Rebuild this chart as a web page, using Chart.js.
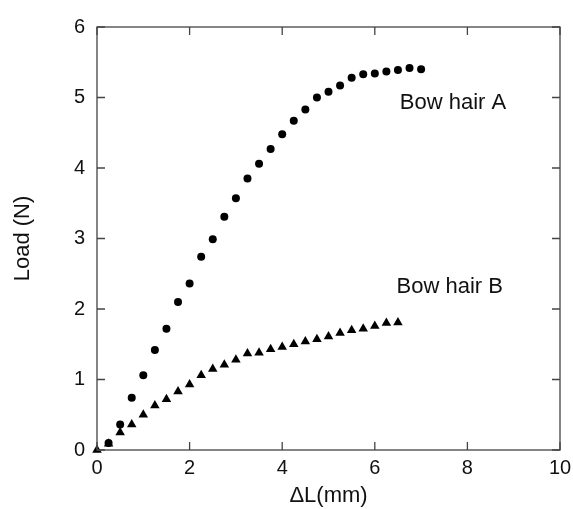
<!DOCTYPE html>
<html>
<head>
<meta charset="utf-8">
<script src="https://cdn.jsdelivr.net/npm/chart.js@4/dist/chart.umd.min.js"></script>
<style>
  html, body { margin: 0; padding: 0; background: #fff; }
  #wrap { width: 573px; height: 509px; }
</style>
</head>
<body>
<div id="wrap"><canvas id="plot"></canvas></div>
<script>
// elongation steps (mm)
const elongation = [0, 0.25, 0.5, 0.75, 1, 1.25, 1.5, 1.75, 2, 2.25, 2.5, 2.75, 3, 3.25, 3.5,
  3.75, 4, 4.25, 4.5, 4.75, 5, 5.25, 5.5, 5.75, 6, 6.25, 6.5, 6.75, 7];
// load (N)
const hairA = [null, 0.10, 0.36, 0.74, 1.06, 1.42, 1.72, 2.10, 2.36, 2.74, 2.99, 3.31, 3.57, 3.85, 4.06,
  4.27, 4.48, 4.67, 4.83, 5.00, 5.08, 5.17, 5.28, 5.33, 5.34, 5.37, 5.39, 5.42, 5.40];
const hairB = [0, 0.09, 0.25, 0.36, 0.50, 0.63, 0.72, 0.83, 0.93, 1.06, 1.15, 1.21, 1.28, 1.37, 1.38,
  1.43, 1.46, 1.50, 1.54, 1.57, 1.61, 1.66, 1.70, 1.72, 1.76, 1.80, 1.81];
const xTicks = [0, 2, 4, 6, 8, 10];
const yTicks = [0, 1, 2, 3, 4, 5, 6];
const labels = [
  { text: 'Bow hair A', x: 6.54, y: 4.92 },
  { text: 'Bow hair B', x: 6.47, y: 2.32 }
];

function toPoints(ys) {
  const pts = [];
  ys.forEach((y, i) => { if (y !== null) pts.push({ x: elongation[i], y: y }); });
  return pts;
}

const FONT = 'Liberation Sans, Arial, sans-serif';

// frame with inward ticks on all four sides, plus the text labels
const framePlugin = {
  id: 'frame',
  afterDraw(chart) {
    const { ctx, chartArea: a, scales } = chart;
    const t = 8;
    ctx.save();
    ctx.strokeStyle = '#444';
    ctx.lineWidth = 1.3;
    ctx.strokeRect(a.left, a.top, a.right - a.left, a.bottom - a.top);
    ctx.beginPath();
    xTicks.forEach(v => {
      const px = scales.x.getPixelForValue(v);
      ctx.moveTo(px, a.bottom); ctx.lineTo(px, a.bottom - t);
      ctx.moveTo(px, a.top); ctx.lineTo(px, a.top + t);
    });
    yTicks.forEach(v => {
      const py = scales.y.getPixelForValue(v);
      ctx.moveTo(a.left, py); ctx.lineTo(a.left + t, py);
      ctx.moveTo(a.right, py); ctx.lineTo(a.right - t, py);
    });
    ctx.stroke();
    ctx.fillStyle = '#111';
    ctx.font = '22px ' + FONT;
    ctx.textBaseline = 'middle';
    ctx.textAlign = 'left';
    labels.forEach(l => {
      ctx.fillText(l.text, scales.x.getPixelForValue(l.x), scales.y.getPixelForValue(l.y));
    });
    ctx.restore();
  }
};

new Chart(document.getElementById('plot'), {
  type: 'scatter',
  data: {
    datasets: [
      {
        label: 'Bow hair A',
        data: toPoints(hairA),
        pointStyle: 'circle',
        pointRadius: 4,
        backgroundColor: '#000',
        borderColor: '#000',
        borderWidth: 0,
        clip: false
      },
      {
        label: 'Bow hair B',
        data: toPoints(hairB),
        pointStyle: 'triangle',
        pointRadius: 5.5,
        backgroundColor: '#000',
        borderColor: '#000',
        borderWidth: 0,
        clip: false
      }
    ]
  },
  options: {
    responsive: true,
    maintainAspectRatio: false,
    animation: false,
    layout: { padding: { top: 27, right: 13, left: 10, bottom: 0 } },
    plugins: {
      legend: { display: false },
      tooltip: { enabled: false }
    },
    scales: {
      x: {
        type: 'linear',
        min: 0,
        max: 10,
        afterBuildTicks: s => { s.ticks = xTicks.map(v => ({ value: v })); },
        afterFit: s => { s.height = 59; s.paddingRight = 0; s.paddingLeft = 0; },
        grid: { display: false, drawTicks: false },
        border: { display: false },
        ticks: { color: '#111', padding: 6, font: { size: 20, family: FONT } },
        title: {
          display: true,
          text: 'ΔL(mm)',
          color: '#111',
          padding: { top: 2, bottom: 0 },
          font: { size: 22, family: FONT }
        }
      },
      y: {
        type: 'linear',
        min: 0,
        max: 6,
        afterBuildTicks: s => { s.ticks = yTicks.map(v => ({ value: v })); },
        afterFit: s => { s.width = 87; s.paddingTop = 0; s.paddingBottom = 0; },
        grid: { display: false, drawTicks: false },
        border: { display: false },
        ticks: { color: '#111', padding: 12, font: { size: 20, family: FONT } },
        title: {
          display: true,
          text: 'Load (N)',
          color: '#111',
          padding: { top: 0, bottom: 0 },
          font: { size: 22, family: FONT }
        }
      }
    }
  },
  plugins: [framePlugin]
});
</script>
</body>
</html>
